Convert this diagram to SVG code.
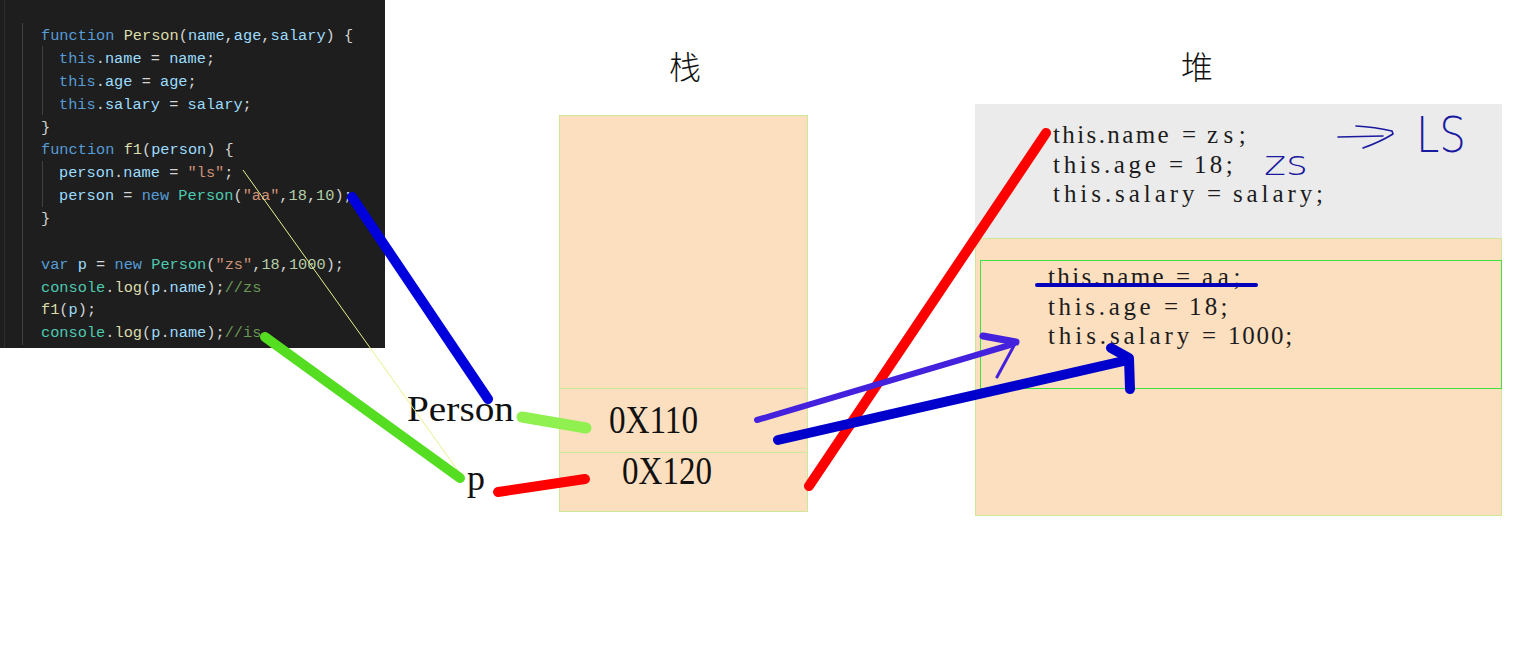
<svg xmlns="http://www.w3.org/2000/svg" width="1523" height="650" viewBox="0 0 1523 650">
<style>
.code{font-family:"Liberation Mono","DejaVu Sans Mono",monospace;font-size:15.3px;fill:#d4d4d4;white-space:pre}
.kw{fill:#569cd6}.fn{fill:#dcdcaa}.vr{fill:#9cdcfe}.st{fill:#ce9178}.nm{fill:#b5cea8}.cl{fill:#4ec9b0}.cm{fill:#6a9955}
.heap{font-family:"Liberation Serif","DejaVu Serif",serif;font-size:25px;fill:#1c1c1c}
.big{font-family:"Liberation Serif","Noto Sans CJK SC",serif;fill:#111}
.cjk{font-family:"Noto Sans CJK SC","Noto Sans CJK JP",serif;font-size:32px;font-weight:300;fill:#111}
.hand{font-family:"DejaVu Sans",sans-serif;font-weight:200;fill:#1a1aa0}
.mem{fill:#fcdfbf;stroke:#cfe79a;stroke-width:1}
.ink{fill:none;stroke-linecap:round;stroke-linejoin:round}
</style>
<rect width="1523" height="650" fill="#ffffff"/>

<g id="code">
<rect x="0" y="0" width="385" height="348" fill="#1e1e1e"/>
<line x1="4.5" y1="0" x2="4.5" y2="348" stroke="#2e2e2e"/>
<line x1="22.5" y1="23" x2="22.5" y2="345" stroke="#404040"/>
<line x1="42.5" y1="46" x2="42.5" y2="115" stroke="#404040"/>
<line x1="42.5" y1="161" x2="42.5" y2="207" stroke="#404040"/>
<g class="code">
<text x="41" y="40"><tspan class="kw">function</tspan> <tspan class="fn">Person</tspan>(<tspan class="vr">name</tspan>,<tspan class="vr">age</tspan>,<tspan class="vr">salary</tspan>) {</text>
<text x="59" y="63"><tspan class="kw">this</tspan>.<tspan class="vr">name</tspan> = <tspan class="vr">name</tspan>;</text>
<text x="59" y="86"><tspan class="kw">this</tspan>.<tspan class="vr">age</tspan> = <tspan class="vr">age</tspan>;</text>
<text x="59" y="109"><tspan class="kw">this</tspan>.<tspan class="vr">salary</tspan> = <tspan class="vr">salary</tspan>;</text>
<text x="41" y="132">}</text>
<text x="41" y="154"><tspan class="kw">function</tspan> <tspan class="fn">f1</tspan>(<tspan class="vr">person</tspan>) {</text>
<text x="59" y="177"><tspan class="vr">person</tspan>.<tspan class="vr">name</tspan> = <tspan class="st">"ls"</tspan>;</text>
<text x="59" y="200"><tspan class="vr">person</tspan> = <tspan class="kw">new</tspan> <tspan class="cl">Person</tspan>(<tspan class="st">"aa"</tspan>,<tspan class="nm">18</tspan>,<tspan class="nm">10</tspan>);</text>
<text x="41" y="223">}</text>
<text x="41" y="269"><tspan class="kw">var</tspan> <tspan class="vr">p</tspan> = <tspan class="kw">new</tspan> <tspan class="cl">Person</tspan>(<tspan class="st">"zs"</tspan>,<tspan class="nm">18</tspan>,<tspan class="nm">1000</tspan>);</text>
<text x="41" y="292"><tspan class="cl">console</tspan>.<tspan class="fn">log</tspan>(<tspan class="vr">p</tspan>.<tspan class="vr">name</tspan>);<tspan class="cm">//zs</tspan></text>
<text x="41" y="314"><tspan class="fn">f1</tspan>(<tspan class="vr">p</tspan>);</text>
<text x="41" y="337"><tspan class="cl">console</tspan>.<tspan class="fn">log</tspan>(<tspan class="vr">p</tspan>.<tspan class="vr">name</tspan>);<tspan class="cm">//is</tspan></text>
</g>
</g>

<g id="stack">
<text class="cjk" x="685" y="79" text-anchor="middle">栈</text>
<rect class="mem" x="559.5" y="115.5" width="248" height="396"/>
<line x1="559.5" y1="388.5" x2="807.5" y2="388.5" stroke="#cfe79a"/>
<line x1="559.5" y1="452.5" x2="807.5" y2="452.5" stroke="#cfe79a"/>
<text class="big" x="609" y="433" font-size="40" textLength="89" lengthAdjust="spacingAndGlyphs">0X110</text>
<text class="big" x="622" y="484" font-size="40" textLength="90" lengthAdjust="spacingAndGlyphs">0X120</text>
</g>

<g id="labels">
<text class="big" x="407" y="421" font-size="36" textLength="107" lengthAdjust="spacingAndGlyphs">Person</text>
<text class="big" x="467" y="490" font-size="36">p</text>
</g>

<g id="heap">
<text class="cjk" x="1197" y="79" text-anchor="middle">堆</text>
<rect x="975" y="104" width="527" height="134" fill="#ebebeb"/>
<rect class="mem" x="975.5" y="238.5" width="526" height="277"/>
<rect x="980.5" y="260.5" width="521" height="128" fill="none" stroke="#3fe03f" stroke-width="1"/>
<g class="heap">
<text y="143"><tspan x="1053" textLength="115.7" lengthAdjust="spacing">this.name</tspan><tspan x="1182">=</tspan><tspan x="1207" textLength="38.6" lengthAdjust="spacing">zs;</tspan></text>
<text y="173"><tspan x="1053" textLength="102.9" lengthAdjust="spacing">this.age</tspan><tspan x="1169">=</tspan><tspan x="1194" textLength="38.6" lengthAdjust="spacing">18;</tspan></text>
<text y="202"><tspan x="1053" textLength="141.5" lengthAdjust="spacing">this.salary</tspan><tspan x="1207">=</tspan><tspan x="1233" textLength="90" lengthAdjust="spacing">salary;</tspan></text>
<text y="285"><tspan x="1048" textLength="115.6" lengthAdjust="spacing">this.name</tspan><tspan x="1176">=</tspan><tspan x="1202" textLength="38.5" lengthAdjust="spacing">aa;</tspan></text>
<text y="315"><tspan x="1048" textLength="102.7" lengthAdjust="spacing">this.age</tspan><tspan x="1164">=</tspan><tspan x="1189" textLength="38.5" lengthAdjust="spacing">18;</tspan></text>
<text y="344"><tspan x="1048" textLength="141.2" lengthAdjust="spacing">this.salary</tspan><tspan x="1202">=</tspan><tspan x="1228" textLength="64.2" lengthAdjust="spacing">1000;</tspan></text>
</g>
</g>

<g id="notes">
<text class="hand" x="1264" y="175" font-size="34" textLength="44" lengthAdjust="spacingAndGlyphs">zs</text>
<path class="ink" stroke="#1a1aa0" stroke-width="1.6" d="M1356,126 Q1375,127 1392,131 L1393,134 Q1380,142 1363,148 M1338,137 L1383,136"/>
<text class="hand" x="1416" y="152" font-size="50" textLength="50" lengthAdjust="spacingAndGlyphs">LS</text>
</g>

<g id="connectors">
<line x1="243" y1="170" x2="461" y2="475" stroke="#e8f08a" stroke-width="1"/>
<line class="ink" x1="352" y1="197" x2="488" y2="399" stroke="#0000dd" stroke-width="10"/>
<line class="ink" x1="265" y1="337" x2="460" y2="478" stroke="#55dd22" stroke-width="10"/>
<line class="ink" x1="522" y1="417" x2="586" y2="428" stroke="#90f050" stroke-width="11"/>
<line class="ink" x1="498" y1="492" x2="585" y2="479" stroke="#ff0000" stroke-width="10"/>
<line class="ink" x1="809" y1="486" x2="1046" y2="133" stroke="#ff0000" stroke-width="10"/>
<path class="ink" stroke="#4422dd" stroke-width="6" d="M757,420 L1010,345"/>
<path class="ink" stroke="#4422dd" stroke-width="7" d="M983,336 L1016,342"/>
<path class="ink" stroke="#4422dd" stroke-width="3" d="M1016,342 L997,377"/>
<path class="ink" stroke="#0000cc" stroke-width="10" d="M778,440 L1128,360 M1111,348 L1129,358 L1130,389"/>
<line class="ink" x1="1037" y1="285" x2="1256" y2="285" stroke="#0000bb" stroke-width="4"/>
</g>
</svg>
